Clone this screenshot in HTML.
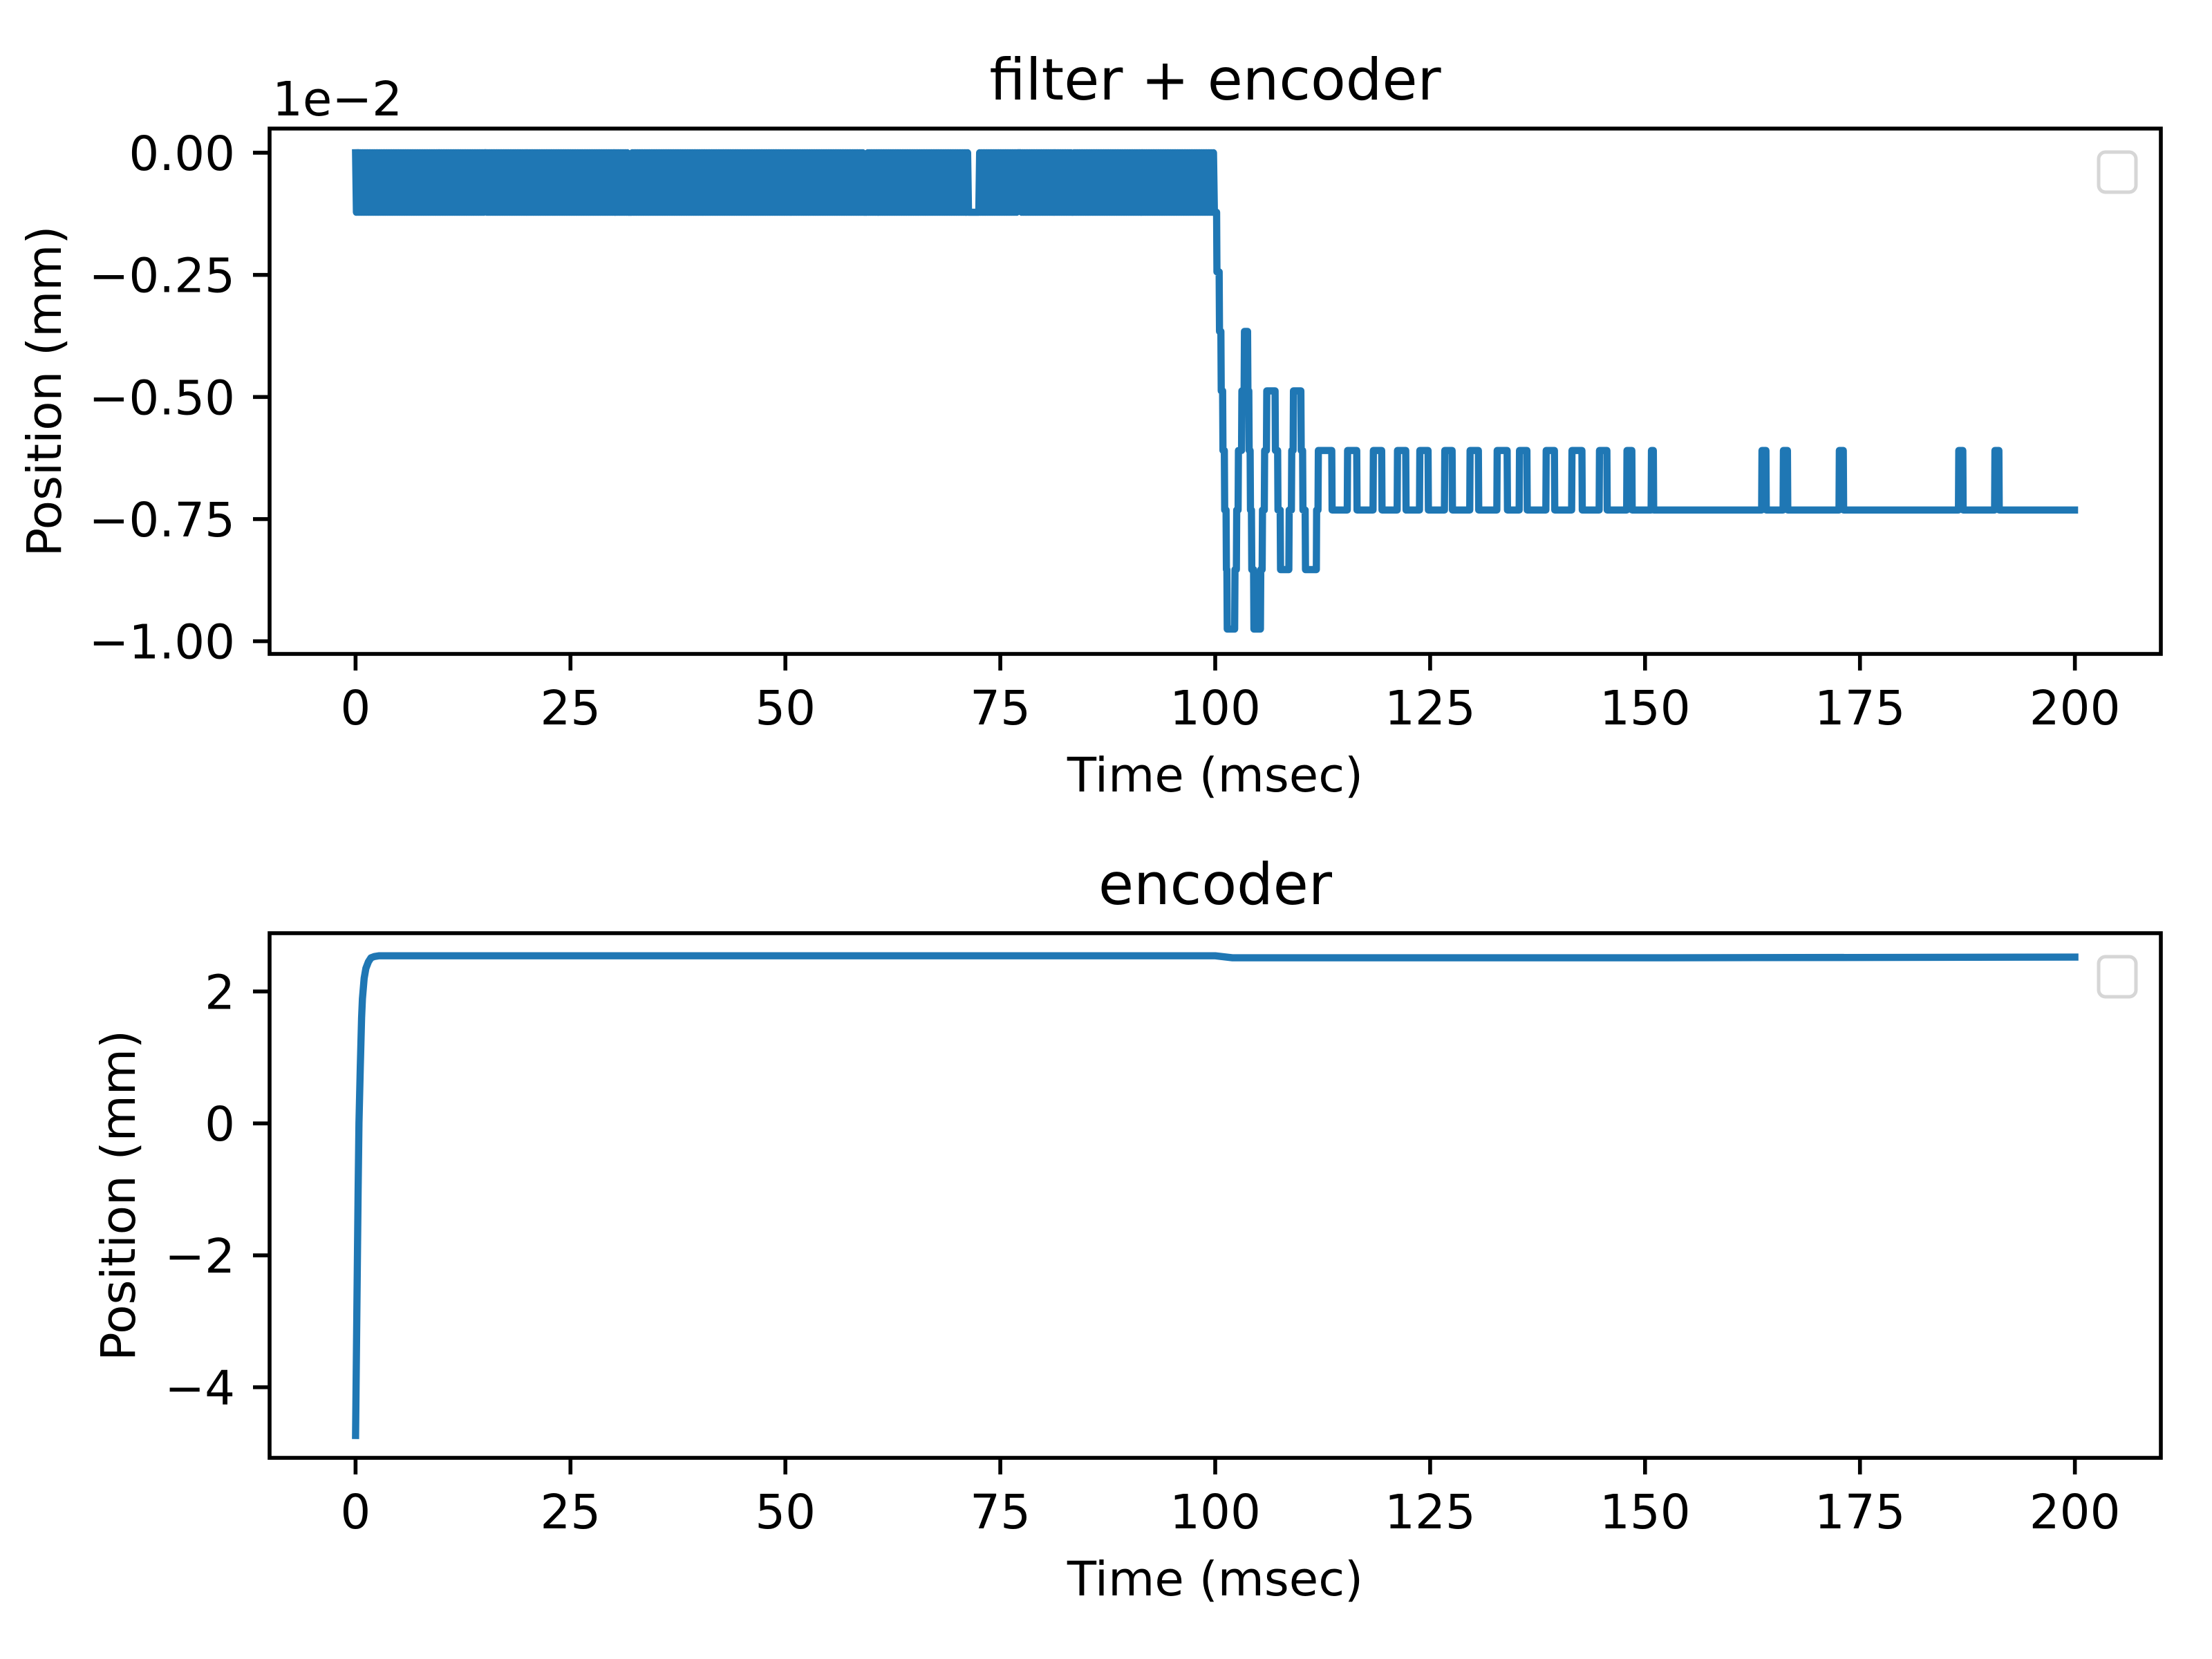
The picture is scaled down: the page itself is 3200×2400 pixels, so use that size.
<!DOCTYPE html>
<html><head><meta charset="utf-8"><style>
html,body{margin:0;padding:0;background:#fff;}
svg{display:block;font-family:"DejaVu Sans","Liberation Sans",sans-serif;}
</style></head><body>
<svg id="fig" width="3200" height="2400" viewBox="0 0 3200 2400" xmlns="http://www.w3.org/2000/svg">
<rect width="3200" height="2400" fill="#fff"/>
<g id="top"></g>
<g id="bot"></g>
</svg>
<script>
// ---------- data ----------
const xTicks = [0, 25, 50, 75, 100, 125, 150, 175, 200];
const topYTicks = [0, -0.25, -0.5, -0.75, -1.0];
const topYTickLabels = ["0.00", "\u22120.25", "\u22120.50", "\u22120.75", "\u22121.00"];
const botYTicks = [2, 0, -2, -4];
const botYTickLabels = ["2", "0", "\u22122", "\u22124"];
const quantStep = 0.1219; // position quantum (1e-2 mm)
// dense dithering region 0..100 ms (toggles between level 0 and 1)
const denseStart = 0, denseEnd = 100, denseDt = 0.1;
const holdStarts = [15.0, 31.8, 59.2, 71.3, 77.1, 83.3];
const holdEnds   = [15.25, 32.15, 59.45, 72.4, 77.35, 83.55];
const holdLevels = [0, 1, 1, 1, 0, 1];
// after 100 ms: step segments (start time, level index)
const stepTimes = [100.0,100.2,100.5,100.7,100.9,101.1,101.3,101.4,102.3,102.5,102.7,103.1,103.4,103.8,103.95,104.1,104.25,104.5,105.3,105.5,105.75,106.0,107.0,107.3,107.6,108.6,108.9,109.1,110.0,110.2,110.5,111.8,112.0,
113.6,115.4,116.5,118.4,119.4,121.2,122.2,123.8,124.8,126.7,127.6,129.65,130.65,132.8,134.0,135.4,136.3,138.5,139.5,141.5,142.7,144.7,145.6,147.9,148.5,150.75,151.0,163.6,164.1,166.1,166.6,172.6,173.1,186.5,187.0,190.7,191.2];
const stepLevels = [1,2,3,4,5,6,7,8,7,6,5,4,3,4,5,6,7,8,7,6,5,4,5,6,7,6,5,4,5,6,7,6,5,
6,5,6,5,6,5,6,5,6,5,6,5,6,5,6,5,6,5,6,5,6,5,6,5,6,5,6,5,6,5,6,5,6,5,6,5,6];
const stepEnd = 200;
// encoder series
const encTimes  = [0, 0.1, 0.2, 0.3, 0.4, 0.55, 0.7, 0.8, 1.0, 1.2, 1.5, 1.8, 2.2, 2.7, 100, 102, 105, 110, 150, 200];
const encValues = [-4.73, -3.5, -2.2, -1.0, 0.0, 0.85, 1.6, 1.89, 2.2, 2.35, 2.45, 2.51, 2.53, 2.54, 2.54, 2.51, 2.51, 2.51, 2.51, 2.52];

// ---------- layout ----------
const NS = "http://www.w3.org/2000/svg";
const L = 390, R = 3126;
const xMin = -10, xMax = 210;
const X = t => L + (t - xMin) / (xMax - xMin) * (R - L);
const topBox = {t: 186, b: 946, vTop: 0.0495, vBot: -1.026};
const botBox = {t: 1350, b: 2109, vTop: 2.883, vBot: -5.07};
const mkY = box => v => box.t + (box.vTop - v) / (box.vTop - box.vBot) * (box.b - box.t);
const Yt = mkY(topBox), Yb = mkY(botBox);

function el(tag, attrs, parent) {
  const e = document.createElementNS(NS, tag);
  for (const k in attrs) e.setAttribute(k, attrs[k]);
  parent.appendChild(e);
  return e;
}

function axes(g, box, Y, yTicks, yLabels, title, ylabelX) {
  // x ticks
  xTicks.forEach(v => {
    const tk = el("line", {x1: X(v), x2: X(v), y1: box.b, y2: box.b + 24, stroke: "#000", "stroke-width": 5.6}, g);
    
    
    const tl = el("text", {x: X(v), y: box.b + 102, "font-size": 69, "text-anchor": "middle", fill: "#000"}, g);
    tl.textContent = String(v);
    
    
  });
  yTicks.forEach((v, i) => {
    const tk = el("line", {x1: L - 24, x2: L, y1: Y(v), y2: Y(v), stroke: "#000", "stroke-width": 5.6}, g);
    
    
    const tl = el("text", {x: L - 50, y: Y(v) + 25, "font-size": 69, "text-anchor": "end", fill: "#000"}, g);
    tl.textContent = yLabels[i];
    
    
  });
  const tt = el("text", {x: (L + R) / 2, y: box.t - 42, "font-size": 83, "text-anchor": "middle", fill: "#000"}, g);
  tt.textContent = title;
  
  
  const xl = el("text", {x: (L + R) / 2, y: box.b + 199, "font-size": 69, "text-anchor": "middle", fill: "#000"}, g);
  xl.textContent = "Time (msec)";
  
  
  const cy = (box.t + box.b) / 2;
  const yl = el("text", {x: ylabelX, y: cy, "font-size": 69, "text-anchor": "middle", fill: "#000", transform: `rotate(-90 ${ylabelX} ${cy})`, "dominant-baseline": "central"}, g);
  yl.textContent = "Position (mm)";
  
  
  // legend (empty)
  const lg = el("rect", {x: 3036, y: box.t + 34, width: 54, height: 58, rx: 10, fill: "#fff", stroke: "#d6d6d6", "stroke-width": 5}, g);
  
  
}

function frame(g, box) {
  const f = el("rect", {x: L, y: box.t, width: R - L, height: box.b - box.t, fill: "none", stroke: "#000", "stroke-width": 5.6}, g);
  
  
}

// ---------- top panel ----------
const gTop = document.getElementById("top");
axes(gTop, topBox, Yt, topYTicks, topYTickLabels, "filter + encoder", 65);
const off = el("text", {x: 394, y: 167, "font-size": 69, fill: "#000"}, gTop);
off.textContent = "1e\u22122";



const pts = [];
const nDense = Math.round((denseEnd - denseStart) / denseDt);
for (let i = 0; i < nDense; i++) {
  const t = denseStart + i * denseDt;
  let k = i % 2;
  for (let h = 0; h < holdStarts.length; h++) if (t >= holdStarts[h] && t <= holdEnds[h]) k = holdLevels[h];
  pts.push([t, -k * quantStep]);
}
for (let i = 0; i < stepTimes.length; i++) {
  const tEnd = i + 1 < stepTimes.length ? stepTimes[i + 1] : stepEnd;
  const v = -stepLevels[i] * quantStep;
  pts.push([stepTimes[i], v]);
  pts.push([Math.max(stepTimes[i], tEnd - 0.04), v]);
}
const topLine = el("polyline", {points: pts.map(p => X(p[0]).toFixed(1) + "," + Yt(p[1]).toFixed(1)).join(" "), fill: "none", stroke: "#1f77b4", "stroke-width": 10.4, "stroke-linejoin": "round", "stroke-linecap": "square"}, gTop);


frame(gTop, topBox);

// ---------- bottom panel ----------
const gBot = document.getElementById("bot");
axes(gBot, botBox, Yb, botYTicks, botYTickLabels, "encoder", 172);
let d = "";
encTimes.forEach((t, i) => { d += (i ? " L" : "M") + X(t).toFixed(1) + " " + Yb(encValues[i]).toFixed(1); });
const botLine = el("path", {d: d, fill: "none", stroke: "#1f77b4", "stroke-width": 10.4, "stroke-linejoin": "round", "stroke-linecap": "square"}, gBot);


frame(gBot, botBox);
</script>
</body></html>
